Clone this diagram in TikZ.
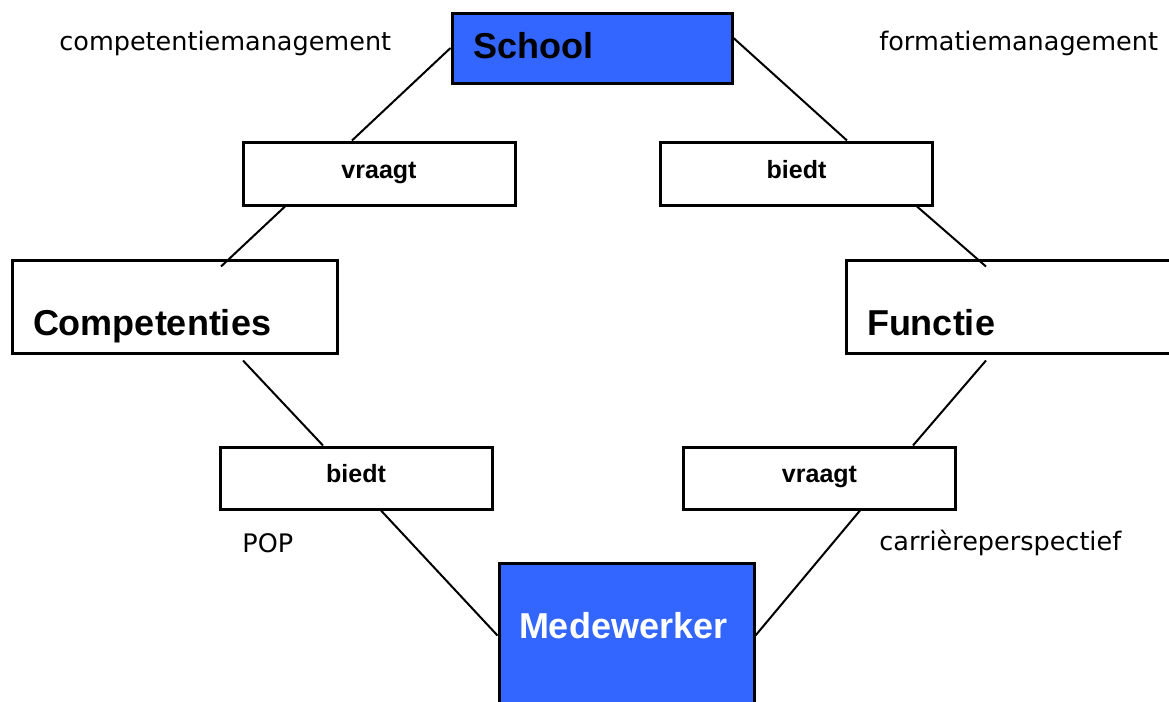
\documentclass[tikz,border=0pt]{standalone}
\usepackage{fontspec}
\setmainfont{Liberation Sans}
\newfontfamily\notefont{DejaVu Sans}
\definecolor{boxblue}{RGB}{51,102,255}

\begin{document}
\begin{tikzpicture}[x=0.5pt,y=-0.5pt]
  \tikzset{bigbox/.style = {draw, line width=1.5pt, inner xsep=10.5pt, inner ysep=0pt, text width=141.5pt, align=left, font=\fontsize{18}{20}\selectfont\bfseries}}
  \tikzset{verb/.style = {draw, line width=1.5pt, minimum width=136pt, minimum height=31.5pt, inner sep=0pt, text height=8pt, text depth=3.5pt, font=\fontsize{12.5}{15}\selectfont\bfseries}}
  \tikzset{note/.style = {inner sep=0pt, anchor=west, font=\notefont\fontsize{12.75}{15}\selectfont}}
  \tikzset{link/.style = {line width=1pt}}

\useasboundingbox (0,0) rectangle (1169,702);

% hoofdblokken
\node[bigbox, fill=boxblue, text width=119pt, text height=22.5pt, text depth=12.5pt] (school) at (592,48) {School};
\node[bigbox, text height=37.5pt, text depth=9pt] (comp) at (174.5,306.5) {Competenties};
\node[bigbox, text height=37.5pt, text depth=9pt] (func) at (1008.5,306.5) {Functie};
\node[bigbox, fill=boxblue, text=white, inner xsep=10pt, text width=107.5pt, text height=37.5pt, text depth=42.5pt] (medew) at (626.5,643) {Medewerker};

% werkwoorden
\node[verb] (vL) at (379,173.5) {vraagt};
\node[verb] (bR) at (796.5,173.5) {biedt};
\node[verb, minimum height=31pt] (bL) at (356,478) {biedt};
\node[verb, minimum height=31pt] (vR) at (819.5,478) {vraagt};

% losse teksten
\node[note] (cm) at (59,43) {competentiemanagement};
\node[note] (fm) at (879,43) {formatiemanagement};
\node[note] (pop) at (242,543) {POP};
\node[note] (cp) at (879,543) {carrièreperspectief};

    \path (school.west) edge[link] ([xshift=-13.5pt]vL.north);
    \path ([xshift=-47pt]vL.south) edge[link] ([xshift=23.25pt,yshift=-4pt]comp.north);
    \path ([xshift=34.25pt,yshift=-3pt]comp.south) edge[link] ([xshift=-16.5pt]bL.north);
    \path ([xshift=12.5pt]bL.south) edge[link] ([yshift=-37pt]medew.north west);

    \path ([yshift=5pt]school.east) edge[link] ([xshift=25.25pt]bR.north);
    \path ([xshift=60.25pt]bR.south) edge[link] ([xshift=-11.25pt,yshift=-4pt]func.north);
    \path ([xshift=-11.25pt,yshift=-3pt]func.south) edge[link] ([xshift=46.75pt]vR.north);
    \path ([xshift=20.25pt]vR.south) edge[link] ([yshift=-37pt]medew.north east);

\end{tikzpicture}
\end{document}
